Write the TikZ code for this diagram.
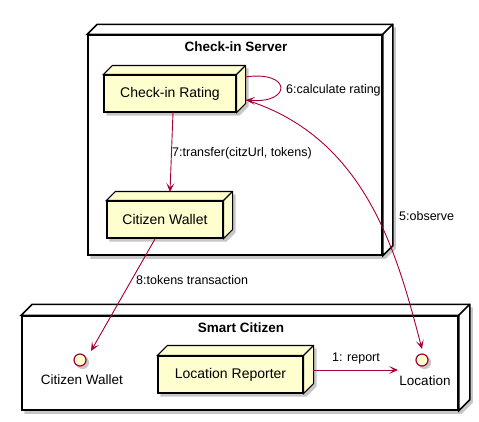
\documentclass[tikz,border=0pt]{standalone}
\usepackage{fontspec}
\setmainfont{Liberation Sans}
\usetikzlibrary{arrows.meta,calc,backgrounds}
\definecolor{arrowc}{HTML}{A80036}
\definecolor{nodefill}{HTML}{FEFECE}
\pgfdeclarelayer{mid}
\pgfsetlayers{background,mid,main}
\newcommand\boxfaces[3]{%
  \path[#3] (#1.north west) -- ++(#2,-#2) -- ($(#1.north east)+(#2,-#2)$) -- ($(#1.south east)+(#2,-#2)$) -- (#1.south east) -- (#1.north east) -- cycle;
  \draw[#3,fill=none] (#1.north east) -- ++(#2,-#2);
}
\newcommand\shadowpath[2]{%
  \fill[black!22] ($(#1.north west)+(3,3)$) -- ($(#1.north west)+(#2+3,-#2+3)$) -- ($(#1.north east)+(#2+3,-#2+3)$) -- ($(#1.south east)+(#2+3,-#2+3)$) -- ($(#1.south east)+(3,3)$) -- ($(#1.south west)+(3,3)$) -- cycle;
}
\newcommand\outershadow[2]{%
  \begin{pgfonlayer}{background}
  \shadowpath{#1}{#2}
  \fill[white] (#1.north west) -- ++(#2,-#2) -- ($(#1.north east)+(#2,-#2)$) -- ($(#1.south east)+(#2,-#2)$) -- (#1.south east) -- (#1.south west) -- cycle;
  \end{pgfonlayer}
}
\newcommand\innershadow[2]{%
  \begin{pgfonlayer}{mid}
  \shadowpath{#1}{#2}
  \end{pgfonlayer}
}
\tikzset{
  x=1pt, y=-1pt,
  framebox/.style={draw=black, line width=1.5pt, inner sep=0pt},
  framefaces/.style={draw=black, line width=1.5pt, line join=miter},
  nodebox/.style={draw=black, line width=1.1pt, fill=nodefill, inner sep=0pt, minimum height=37pt, font=\fontsize{14}{16}\selectfont},
  nodefaces/.style={draw=black, line width=1.1pt, fill=nodefill, line join=miter},
  iface/.style={circle, draw=arrowc, fill=nodefill, line width=1.2pt, minimum size=12pt, inner sep=0pt},
  title/.style={font=\fontsize{13.5}{16}\bfseries\selectfont, inner sep=0pt},
  lbl/.style={font=\fontsize{12.5}{15}\selectfont, inner sep=0pt},
  conn/.style={draw=arrowc, line width=0.9pt, -{Stealth[length=9pt,width=8pt,inset=4.5pt]}},
}
\begin{document}
\begin{tikzpicture}
\useasboundingbox (0,0) rectangle (479,421);
% outer frames
\node[framebox, minimum width=294pt, minimum height=220pt] (srv) at (235,145) {};
\boxfaces{srv}{10}{framefaces}
\outershadow{srv}{10}
\node[title] (srvt) at (236,47) {Check-in Server};
\node[framebox, minimum width=436pt, minimum height=94pt] (sc) at (240,363) {};
\boxfaces{sc}{11}{framefaces}
\outershadow{sc}{11}
\node[title] (sct) at (241,328) {Smart Citizen};
% inner nodes
\node[nodebox, minimum width=132pt] (cr) at (170,93.5) {Check-in Rating};
\boxfaces{cr}{9}{nodefaces}
\innershadow{cr}{9}
\node[nodebox, minimum width=116pt] (cwl) at (165,219.5) {Citizen Wallet};
\boxfaces{cwl}{9}{nodefaces}
\innershadow{cwl}{9}
\node[nodebox, minimum width=145pt] (lr) at (230.5,374.5) {Location Reporter};
\boxfaces{lr}{10}{nodefaces}
\innershadow{lr}{10}
% interfaces
\node[iface] (icw) at (80,360) {};
\node[lbl, font=\fontsize{13.5}{16}\selectfont] (icwl) at (82,380) {Citizen Wallet};
\node[iface] (iloc) at (422,360) {};
\node[lbl, font=\fontsize{13.5}{16}\selectfont] (ilocl) at (425,381) {Location};
\begin{pgfonlayer}{mid}
\fill[black!22] ($(icw)+(2.5,2.5)$) circle (6.6);
\fill[black!22] ($(iloc)+(2.5,2.5)$) circle (6.6);
\end{pgfonlayer}
% connector end points
\coordinate (loopS) at (245,77);
\coordinate (loopE) at (246,100);
\coordinate (crBot) at (173,112);
\coordinate (cwTop) at (170,192);
\coordinate (cwBot) at (155,239);
\coordinate (icwTop) at (91,351);
\coordinate (locTop) at (422,349);
\coordinate (lrR) at (313,370);
\coordinate (locL) at (398,370);
% connectors
\draw[conn] (loopS) .. controls (292,70) and (292,104) .. (loopE);
\node[lbl, anchor=west] (l6) at (286,90) {6:calculate rating};
\draw[conn] (crBot) -- (cwTop);
\node[lbl, anchor=west] (l7) at (172,153) {7:transfer(citzUrl, tokens)};
\draw[conn] (loopE) .. controls (368,138) and (398,258) .. (locTop);
\node[lbl, anchor=west] (l5) at (399,216) {5:observe};
\draw[conn] (cwBot) -- (icwTop);
\node[lbl, anchor=west] (l8) at (136,280) {8:tokens transaction};
\draw[conn] (lrR) -- (locL);
\node[lbl] (l1) at (356,358) {1: report};
\end{tikzpicture}
\end{document}
